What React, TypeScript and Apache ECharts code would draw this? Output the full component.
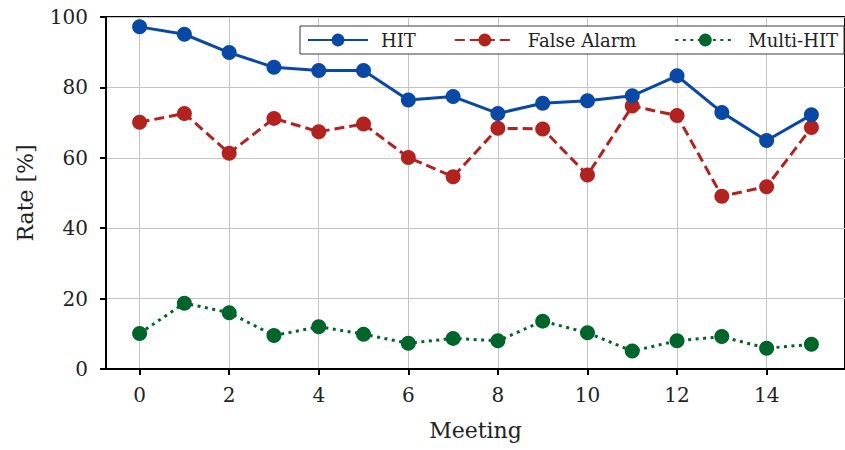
import React, { useEffect, useRef } from "react";
import * as echarts from "echarts";

const meetings = [0, 1, 2, 3, 4, 5, 6, 7, 8, 9, 10, 11, 12, 13, 14, 15];
const hitRate = [97.2, 95.1, 89.9, 85.7, 84.8, 84.8, 76.4, 77.4, 72.6, 75.5, 76.2, 77.6, 83.3, 72.9, 64.9, 72.2];
const falseAlarmRate = [70.1, 72.6, 61.3, 71.2, 67.4, 69.6, 60.1, 54.6, 68.4, 68.2, 55.1, 74.7, 72.0, 49.1, 51.8, 68.6];
const multiHitRate = [10.1, 18.7, 16.0, 9.5, 12.0, 9.9, 7.3, 8.7, 8.0, 13.6, 10.3, 5.1, 8.0, 9.2, 5.9, 7.0];
const xTicks = [0, 2, 4, 6, 8, 10, 12, 14];
const seriesNames = ["HIT", "False Alarm", "Multi-HIT"];
const colors = ["#0a48a6", "#b22320", "#00652a"];

const FONT = "DejaVu Serif";

export default function App() {
  const ref = useRef<HTMLDivElement>(null);
  useEffect(() => {
    document.body.style.margin = "0";
    const chart = echarts.init(ref.current!, null, { renderer: "svg" });
    const toPairs = (arr: number[]) => meetings.map((m, i) => [m, arr[i]]);
    const lineTypes: any[] = ["solid", [10, 5], [3, 4.5]];
    const datasets = [hitRate, falseAlarmRate, multiHitRate];
    chart.setOption({
      animation: false,
      backgroundColor: "#ffffff",
      grid: {
        left: 106,
        top: 17,
        width: 747,
        height: 352,
        show: true,
        borderColor: "#000",
        borderWidth: 2,
      },
      legend: {
        left: 300,
        top: 26,
        padding: [5, 6, 5, 7],
        itemGap: 38,
        itemWidth: 60,
        itemHeight: 16,
        borderColor: "#3a3a3a",
        borderWidth: 1,
        borderRadius: 0,
        backgroundColor: "#fff",
        textStyle: { fontFamily: FONT, fontSize: 18, color: "#222", padding: [0, 0, 0, 8] },
        data: seriesNames,
      },
      xAxis: {
        type: "value",
        min: -0.75,
        max: 15.75,
        interval: 2,
        name: "Meeting",
        nameLocation: "middle",
        nameGap: 50,
        nameTextStyle: { fontFamily: FONT, fontSize: 22, color: "#222" },
        axisLine: { show: true, onZero: false, lineStyle: { color: "#000", width: 2 } },
        axisTick: { show: true, length: 6, lineStyle: { color: "#000", width: 2 }, customValues: xTicks },
        axisLabel: {
          fontFamily: FONT,
          fontSize: 20,
          color: "#222",
          margin: 16,
          customValues: xTicks,
        },
        splitLine: { show: true, lineStyle: { color: "#c4c4c4", width: 1 } },
      },
      yAxis: {
        type: "value",
        min: 0,
        max: 100,
        interval: 20,
        name: "Rate [%]",
        nameLocation: "middle",
        nameGap: 70,
        nameTextStyle: { fontFamily: FONT, fontSize: 22, color: "#222" },
        axisLine: { show: true, onZero: false, lineStyle: { color: "#000", width: 2 } },
        axisTick: { show: true, length: 6, lineStyle: { color: "#000", width: 2 } },
        axisLabel: { fontFamily: FONT, fontSize: 20, color: "#222", margin: 18 },
        splitLine: { show: true, lineStyle: { color: "#c4c4c4", width: 1 } },
      },
      series: seriesNames.map((name, i) => ({
        name,
        type: "line",
        data: toPairs(datasets[i]),
        symbol: "circle",
        symbolSize: 15,
        color: colors[i],
        itemStyle: { color: colors[i] },
        lineStyle: { color: colors[i], width: 3, type: lineTypes[i] },
        z: 3 - i,
      })),
    });
    return () => chart.dispose();
  }, []);
  return <div ref={ref} style={{ width: 845, height: 450, position: "absolute", left: 0, top: 0 }} />;
}
